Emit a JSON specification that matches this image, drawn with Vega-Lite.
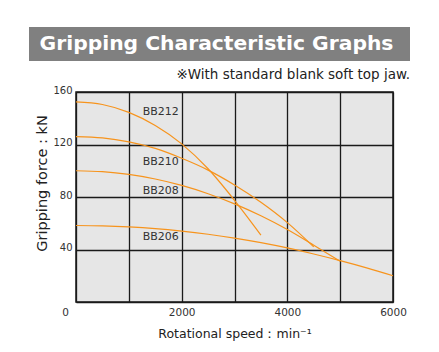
{
  "$schema": "https://vega.github.io/schema/vega-lite/v6.json",
  "padding": {"top": 27, "left": 29, "right": 5, "bottom": 5},
  "background": "white",
  "config": {"font": "DejaVu Sans"},
  "spacing": 2,
  "datasets": {
    "curves": [
      {"model": "BB212", "rpm": 0, "force": 152.5},
      {"model": "BB212", "rpm": 500, "force": 150.5},
      {"model": "BB212", "rpm": 1000, "force": 144.5},
      {"model": "BB212", "rpm": 1500, "force": 134.5},
      {"model": "BB212", "rpm": 2000, "force": 120.5},
      {"model": "BB212", "rpm": 2500, "force": 101.5},
      {"model": "BB212", "rpm": 3000, "force": 77.5},
      {"model": "BB212", "rpm": 3500, "force": 51},
      {"model": "BB210", "rpm": 0, "force": 126},
      {"model": "BB210", "rpm": 500, "force": 125},
      {"model": "BB210", "rpm": 1000, "force": 122},
      {"model": "BB210", "rpm": 1500, "force": 117},
      {"model": "BB210", "rpm": 2000, "force": 109.5},
      {"model": "BB210", "rpm": 2500, "force": 100.5},
      {"model": "BB210", "rpm": 3000, "force": 89.2},
      {"model": "BB210", "rpm": 3500, "force": 76},
      {"model": "BB210", "rpm": 4000, "force": 60.5},
      {"model": "BB210", "rpm": 4500, "force": 42},
      {"model": "BB208", "rpm": 0, "force": 100},
      {"model": "BB208", "rpm": 500, "force": 99.3},
      {"model": "BB208", "rpm": 1000, "force": 97.2},
      {"model": "BB208", "rpm": 1500, "force": 93.7},
      {"model": "BB208", "rpm": 2000, "force": 88.8},
      {"model": "BB208", "rpm": 2500, "force": 82.5},
      {"model": "BB208", "rpm": 3000, "force": 74.8},
      {"model": "BB208", "rpm": 3500, "force": 65.7},
      {"model": "BB208", "rpm": 4000, "force": 55.2},
      {"model": "BB208", "rpm": 4500, "force": 43.3},
      {"model": "BB208", "rpm": 5000, "force": 31},
      {"model": "BB206", "rpm": 0, "force": 58.3},
      {"model": "BB206", "rpm": 500, "force": 58},
      {"model": "BB206", "rpm": 1000, "force": 57.2},
      {"model": "BB206", "rpm": 1500, "force": 55.9},
      {"model": "BB206", "rpm": 2000, "force": 54},
      {"model": "BB206", "rpm": 2500, "force": 51.6},
      {"model": "BB206", "rpm": 3000, "force": 48.7},
      {"model": "BB206", "rpm": 3500, "force": 45.2},
      {"model": "BB206", "rpm": 4000, "force": 41.2},
      {"model": "BB206", "rpm": 4500, "force": 36.6},
      {"model": "BB206", "rpm": 5000, "force": 31.5},
      {"model": "BB206", "rpm": 5500, "force": 26},
      {"model": "BB206", "rpm": 6000, "force": 20}
    ],
    "labels": [
      {"label": "BB212", "rpm": 1262, "force": 145},
      {"label": "BB210", "rpm": 1262, "force": 106.5},
      {"label": "BB208", "rpm": 1262, "force": 84.9},
      {"label": "BB206", "rpm": 1262, "force": 49.4}
    ]
  },
  "vconcat": [
    {
      "width": 381,
      "height": 34,
      "view": {"fill": "#808080", "stroke": null},
      "data": {"values": [{"t": "Gripping Characteristic Graphs"}]},
      "title": {"text": "※With standard blank soft top jaw.", "orient": "bottom", "anchor": "end", "fontSize": 13.5, "fontWeight": "normal", "color": "#222", "offset": 7},
      "mark": {"type": "text", "color": "white", "fontSize": 20.3, "fontWeight": "bold", "dx": -3, "baseline": "middle"},
      "encoding": {"text": {"field": "t"}}
    },
    {
      "spacing": 3,
      "hconcat": [
        {
          "width": 1,
          "height": 210,
          "view": {"stroke": null, "fill": null},
          "data": {"values": []},
          "mark": "point"
        },
        {
          "width": 317,
          "height": 210,
          "view": {"fill": "#e6e6e6", "stroke": "#1a1a1a", "strokeWidth": 1.5},
          "layer": [
            {
              "data": {"name": "curves"},
              "mark": {"type": "line", "color": "#f7941d", "strokeWidth": 1.2, "interpolate": "monotone"},
              "encoding": {
                "x": {
                  "field": "rpm", "type": "quantitative",
                  "scale": {"domain": [0, 6000], "nice": false},
                  "axis": {
                    "values": [0, 1000, 2000, 3000, 4000, 5000, 6000],
                    "format": "d",
                    "labelExpr": "datum.value % 2000 == 0 ? datum.label : ''",
                    "title": "Rotational speed：min⁻¹",
                    "grid": true, "gridColor": "#1a1a1a", "gridWidth": 1.3, "gridOpacity": 1,
                    "domain": false, "ticks": false,
                    "labelPadding": 5, "labelFontSize": 10.5, "labelColor": "#333", "labelFlush": false,
                    "labelOffset": {"condition": {"test": "datum.value == 0", "value": -11}, "value": 0},
                    "titlePadding": 10, "titleFontSize": 12.5, "titleFontWeight": "normal", "titleColor": "#222"
                  }
                },
                "y": {
                  "field": "force", "type": "quantitative",
                  "scale": {"domain": [0, 160], "nice": false},
                  "axis": {
                    "values": [0, 20, 40, 60, 80, 100, 120, 140, 160],
                    "labelExpr": "datum.value > 0 && datum.value % 40 == 0 ? datum.label : ''",
                    "title": "Gripping force : kN",
                    "grid": true, "gridColor": "#1a1a1a", "gridWidth": 1.3, "gridOpacity": 1,
                    "domain": false, "ticks": false,
                    "labelPadding": 4, "labelFontSize": 10, "labelColor": "#333", "labelFlush": false,
                    "labelOffset": -2,
                    "titleX": -27, "titleY": 91,
                    "titleFontSize": 14.5, "titleFontWeight": "normal", "titleColor": "#222"
                  }
                },
                "detail": {"field": "model"}
              }
            },
            {
              "data": {"name": "labels"},
              "mark": {"type": "text", "align": "left", "baseline": "middle", "fontSize": 11, "color": "#333"},
              "encoding": {
                "x": {"field": "rpm", "type": "quantitative"},
                "y": {"field": "force", "type": "quantitative"},
                "text": {"field": "label"}
              }
            }
          ]
        }
      ]
    }
  ]
}
